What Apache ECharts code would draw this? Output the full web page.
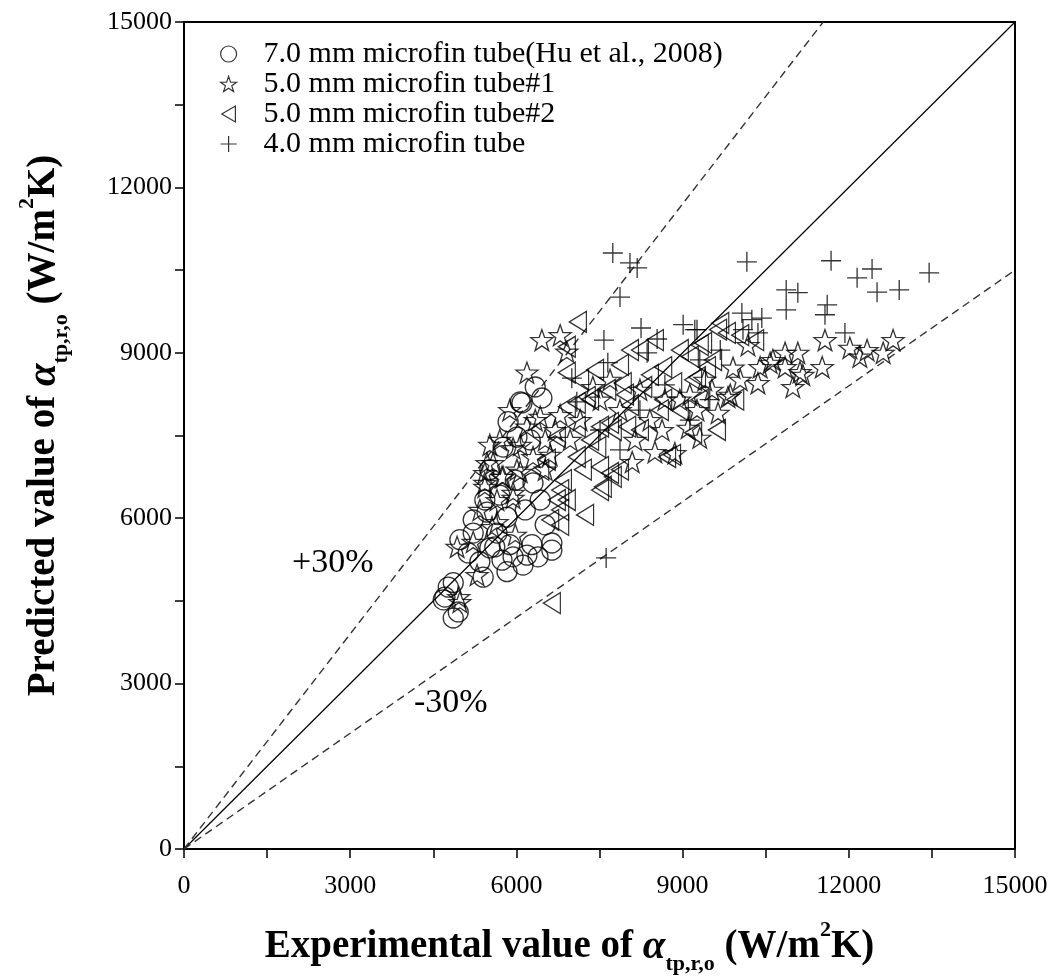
<!DOCTYPE html>
<html>
<head>
<meta charset="utf-8">
<title>Predicted vs experimental heat transfer coefficient</title>
<script src="https://cdn.jsdelivr.net/npm/echarts@6/dist/echarts.min.js"></script>
<style>
  html, body { margin: 0; padding: 0; background: #fff; }
  #chart { width: 1057px; height: 978px; }
</style>
</head>
<body>
<div id="chart"></div>
<script>
// Experimental vs predicted alpha_tp,r,o (W/m2K), one [experimental, predicted] pair per run
const tube70 = [
  [4860, 4190], [4950, 4300], [4710, 4570], [4680, 4520], [4770, 4750], [4860, 4830],
  [5340, 5210], [5400, 4930], [5830, 5030], [6120, 5150], [6390, 5300], [6640, 5550],
  [6640, 5420], [5740, 5240], [5610, 5480], [5880, 5520], [5220, 5970], [5470, 6110],
  [5220, 5730], [6280, 5520], [5520, 5460], [5940, 5300], [6190, 5330], [5650, 5730],
  [5830, 6020], [6300, 6640], [5760, 7290], [6010, 7470], [6250, 7420], [5850, 7750],
  [6100, 8090], [6460, 8180], [6340, 8380], [6070, 8110], [5520, 6880], [5980, 6690],
  [6430, 6330], [5700, 6420], [6160, 6150], [5430, 6330], [6520, 5880], [4980, 5610],
  [5130, 5370]
];
const tube50a = [
  [4960, 4570], [4930, 5480], [5220, 5570], [5290, 4970], [4980, 4480], [5340, 6150],
  [5650, 5930], [5940, 6370], [5430, 6570], [5980, 5700], [5560, 5840], [5430, 6640],
  [5650, 6330], [5940, 6460], [5470, 7000], [5760, 6750], [6010, 6880], [6300, 7110],
  [6190, 7660], [6430, 7840], [6190, 8640], [6460, 9230], [6790, 9320], [5940, 7270],
  [5580, 7000], [5430, 6820], [5740, 6750], [6070, 6840], [6520, 7420], [5700, 7420],
  [6070, 7330], [6340, 7780], [6700, 7600], [6790, 7870], [5880, 7960], [5520, 7330],
  [6610, 7150], [6970, 7420], [6520, 6880], [6910, 9020], [7380, 8380],
  [11570, 9230], [12020, 9090], [12200, 8930], [12330, 9050], [12620, 9000], [12800, 9230],
  [11520, 8740], [10990, 8380], [11120, 8650], [11170, 8600], [10850, 8740], [11080, 9000],
  [10850, 9000], [10630, 8870], [10400, 8740], [10180, 9140], [10360, 8450], [10040, 8510],
  [9820, 8200], [9640, 7910], [9260, 7960], [9530, 8330], [9910, 8730], [10580, 8820],
  [9860, 8240], [9100, 7640], [8630, 7600], [8140, 7420], [8090, 7020], [8500, 7200],
  [8860, 7180], [9310, 7460], [7510, 8150], [7870, 7960], [8410, 7780], [8950, 8150],
  [7150, 7780], [7690, 8510], [8230, 8330], [8680, 8150], [9400, 8510], [9130, 8240]
];
const tube50b = [
  [7110, 9560], [6640, 4460], [6910, 9110], [6910, 8640], [7090, 8090], [7330, 8150],
  [7510, 7660], [7090, 7660], [7090, 7110], [6840, 6690], [6910, 6330], [6430, 6880],
  [6550, 7060], [6730, 6330], [7560, 6570], [7510, 6930], [6910, 8020], [7270, 8200],
  [7690, 7730], [8000, 7660], [7740, 6750], [7510, 6510], [6790, 6150], [7460, 7290],
  [6730, 7470], [7200, 6880], [8720, 7110], [9680, 9540], [9800, 9360], [8950, 9050],
  [9130, 8930], [9440, 8740], [8650, 8740], [8830, 8450], [8290, 8380], [7920, 8450],
  [7640, 8330], [8590, 7960], [8950, 7960], [9620, 7600], [8810, 7150], [7740, 7600],
  [7690, 6820], [9190, 8510], [8650, 8150], [9640, 9420], [9370, 9180], [9550, 8870],
  [9260, 8560], [9190, 7550], [8230, 9050], [7870, 8780], [7420, 8690], [8050, 8050],
  [7240, 6060], [6790, 5880], [8050, 9050], [8500, 9230], [9310, 9140], [10040, 9320],
  [10310, 9230], [8410, 8600], [9310, 8150], [9950, 8150], [8230, 7600], [7330, 7420],
  [7870, 6880], [6790, 6510], [6610, 5970], [7150, 8510], [7960, 8240]
];
const tube40 = [
  [7740, 10810], [8050, 10630], [8180, 10540], [7870, 10010], [8250, 9450], [8540, 9250],
  [7580, 9230], [8360, 9000], [7650, 8820], [9010, 9510], [9220, 9420], [7000, 8540],
  [7090, 8110], [7620, 5280], [10070, 9720], [10250, 9600], [10430, 9630], [10360, 9360],
  [10090, 9420], [9260, 9420], [10160, 10650], [10870, 10140], [11080, 10090], [10870, 9780],
  [11610, 9870], [11570, 9690], [11930, 9360], [11680, 10670], [12150, 10360], [12420, 10520],
  [12510, 10100], [12910, 10140], [13450, 10450], [8680, 8420], [9310, 8870], [9680, 9050],
  [8230, 7960], [9130, 7780], [9490, 8150], [7510, 7600], [7870, 7240]
];

// Reference lines: perfect agreement and the +/-30% band
const lineParity = [[0, 0], [15000, 15000]];
const linePlus30 = [[0, 0], [11538, 15000]];
const lineMinus30 = [[0, 0], [15000, 10500]];

const seriesNames = [
  '7.0 mm microfin tube(Hu et al., 2008)',
  '5.0 mm microfin tube#1',
  '5.0 mm microfin tube#2',
  '4.0 mm microfin tube'
];
const xTicks = { min: 0, max: 15000, step: 3000 };
const yTicks = { min: 0, max: 15000, step: 3000 };

const SERIF = '"Liberation Serif", "Times New Roman", serif';
const STAR = 'path://M0,-10 L2.35,-3.24 L9.51,-3.09 L3.8,1.24 L5.88,8.09 L0,4 L-5.88,8.09 L-3.8,1.24 L-9.51,-3.09 L-2.35,-3.24 Z';
const TRI_LEFT = 'path://M0,10 L17,0 L17,20 Z';
const CROSS = 'path://M0,10 L20,10 M10,0 L10,20';

const hollow = { color: 'transparent', borderColor: '#000', borderWidth: 1.3 };

function scatter(name, data, symbol, size) {
  return {
    name: name, type: 'scatter', data: data,
    symbol: symbol, symbolSize: size,
    itemStyle: hollow, z: 3,
    emphasis: { disabled: true }
  };
}
function refLine(data, dashed) {
  return {
    type: 'line', data: data, symbol: 'none', silent: true, z: 2,
    lineStyle: { color: dashed ? '#333' : '#000', width: dashed ? 1.4 : 1.2, type: dashed ? [8, 5] : 'solid' }
  };
}

const titleRich = {
  b: { fontFamily: SERIF, fontWeight: 'bold', fontSize: 39, color: '#000', lineHeight: 56, verticalAlign: 'middle' },
  i: { fontFamily: SERIF, fontWeight: 'bold', fontStyle: 'italic', fontSize: 41, color: '#000', lineHeight: 56, verticalAlign: 'middle' },
  s: { fontFamily: SERIF, fontWeight: 'bold', fontSize: 22, color: '#000', lineHeight: 20, verticalAlign: 'bottom' },
  p: { fontFamily: SERIF, fontWeight: 'bold', fontSize: 22, color: '#000', lineHeight: 22, verticalAlign: 'top' }
};
const titleText = (lead) => '{b|' + lead + ' value of }{i|α}{s|tp,r,o}{b| (W/m}{p|2}{b|K)}';

const axisCommon = {
  type: 'value',
  nameLocation: 'middle',
  axisLine: { show: true, lineStyle: { color: '#000', width: 2 } },
  axisTick: { show: true, inside: false, length: 9, lineStyle: { color: '#000', width: 1.5 } },
  minorTick: { show: true, splitNumber: 2, length: 9, lineStyle: { color: '#000', width: 1.5 } },
  splitLine: { show: false },
  axisLabel: { fontFamily: SERIF, fontSize: 26, color: '#000', formatter: (v) => String(v) }
};

const chart = echarts.init(document.getElementById('chart'), null, { renderer: 'canvas' });
chart.setOption({
  backgroundColor: '#fff',
  animation: false,
  grid: {
    left: 184, right: 42, top: 22, bottom: 129,
    containLabel: false, outerBoundsMode: 'none',
    show: true, borderColor: '#000', borderWidth: 2
  },
  xAxis: Object.assign({}, axisCommon, {
    min: xTicks.min, max: xTicks.max, interval: xTicks.step,
    axisLabel: Object.assign({}, axisCommon.axisLabel, { margin: 24 }),
    name: titleText('Experimental'), nameGap: 70,
    nameTextStyle: { rich: titleRich, padding: [0, 60, 0, 0] }
  }),
  yAxis: Object.assign({}, axisCommon, {
    min: yTicks.min, max: yTicks.max, interval: yTicks.step,
    axisLabel: Object.assign({}, axisCommon.axisLabel, { margin: 12 }),
    name: titleText('Predicted'), nameGap: 112, nameRotate: 90,
    nameTextStyle: { rich: titleRich, padding: [0, 0, 0, 20] }
  }),
  legend: {
    orient: 'vertical', left: 215, top: 34, itemGap: 0,
    itemWidth: 16, itemHeight: 16,
    itemStyle: { color: 'transparent', borderColor: '#000', borderWidth: 1.2 },
    textStyle: { fontFamily: SERIF, fontSize: 30, lineHeight: 28, color: '#000', padding: [0, 0, 0, 22] },
    data: [
      { name: seriesNames[0], icon: 'circle' },
      { name: seriesNames[1], icon: STAR },
      { name: seriesNames[2], icon: TRI_LEFT },
      { name: seriesNames[3], icon: CROSS }
    ]
  },
  graphic: [
    { type: 'text', left: 292, top: 546, style: { text: '+30%', font: '34px ' + SERIF, fill: '#000' } },
    { type: 'text', left: 414, top: 686, style: { text: '-30%', font: '34px ' + SERIF, fill: '#000' } }
  ],
  series: [
    refLine(lineParity, false),
    refLine(linePlus30, true),
    refLine(lineMinus30, true),
    scatter(seriesNames[0], tube70, 'circle', 20),
    scatter(seriesNames[1], tube50a, STAR, [22, 21]),
    scatter(seriesNames[2], tube50b, TRI_LEFT, [17, 21]),
    scatter(seriesNames[3], tube40, CROSS, [20, 20])
  ]
});
</script>
</body>
</html>
